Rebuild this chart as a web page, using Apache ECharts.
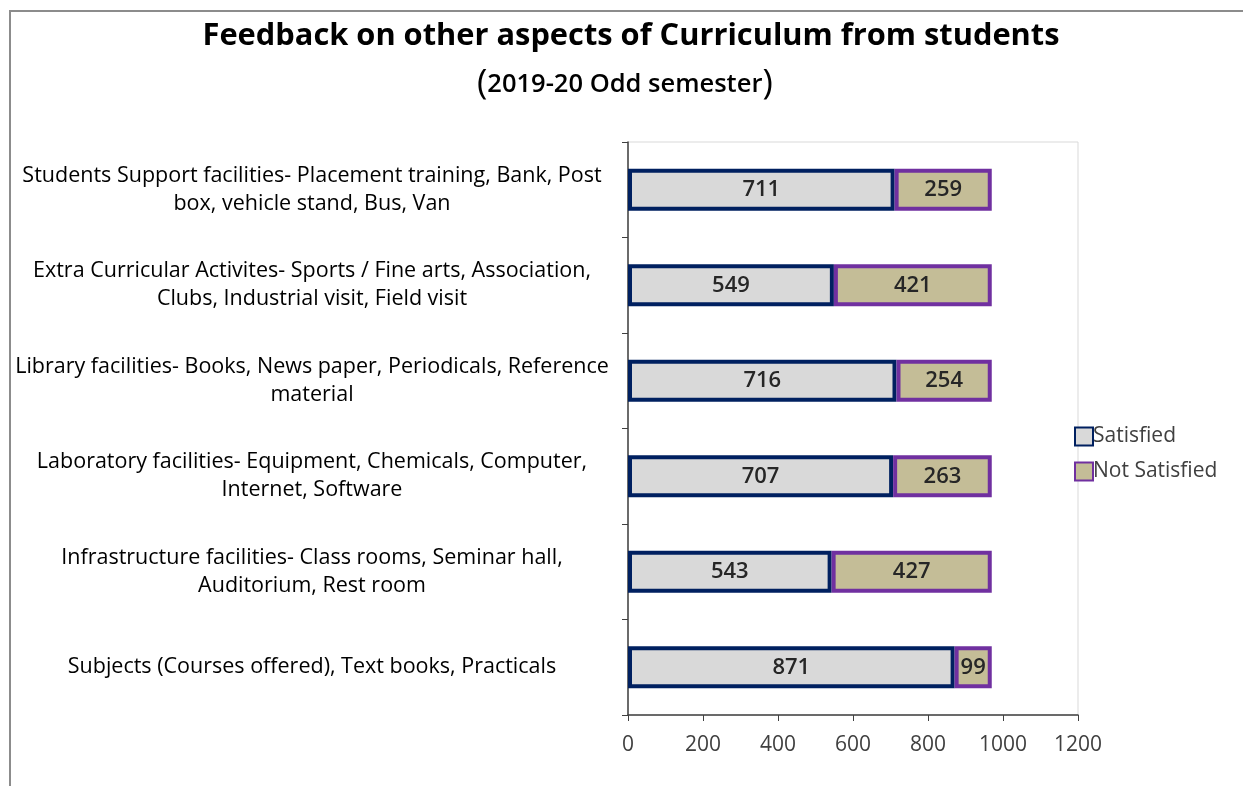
<!DOCTYPE html>
<html><head><meta charset="utf-8">
<script src="https://cdn.jsdelivr.net/npm/echarts@6/dist/echarts.min.js"></script>
<style>html,body{margin:0;padding:0;background:#fff}#c{width:1243px;height:786px}</style>
</head><body><div id="c"></div>
<script>
const categories = [
  "Subjects (Courses offered), Text books, Practicals",
  "Infrastructure facilities- Class rooms, Seminar hall,\nAuditorium, Rest room",
  "Laboratory facilities- Equipment, Chemicals, Computer,\nInternet, Software",
  "Library facilities- Books, News paper, Periodicals, Reference\nmaterial",
  "Extra Curricular Activites- Sports / Fine arts, Association,\nClubs, Industrial visit, Field visit",
  "Students Support facilities- Placement training, Bank, Post\nbox, vehicle stand, Bus, Van"
];
const satisfied = [871, 543, 707, 716, 549, 711];
const notSatisfied = [99, 427, 263, 254, 421, 259];
const seriesNames = ["Satisfied", "Not Satisfied"];
const xTicks = [0, 200, 400, 600, 800, 1000, 1200];

const font = "'Open Sans', 'DejaVu Sans', sans-serif";
const chart = echarts.init(document.getElementById('c'));
chart.setOption({
  animation: false,
  textStyle: {fontFamily: font},
  graphic: [
    {type: 'rect', shape: {x: 10, y: 11, width: 1300, height: 900}, style: {fill: 'none', stroke: '#8c8c8c', lineWidth: 2}, silent: true},
    {type: 'text', left: 477, top: 67, style: {
      text: '{p|(}{t|2019-20 Odd semester}{p|)}',
      rich: {
        p: {fontFamily: font, fontSize: 35, fill: '#000', verticalAlign: 'middle'},
        t: {fontFamily: font, fontSize: 25.5, fontWeight: 600, fill: '#000', verticalAlign: 'middle'}
      }
    }}
  ],
  title: {
    text: 'Feedback on other aspects of Curriculum from students',
    left: 626, top: 16, textAlign: 'center',
    textStyle: {fontFamily: font, fontSize: 30.8, fontWeight: 'bold', color: '#000'}
  },
  legend: {
    orient: 'vertical', left: 1069, top: 421, itemWidth: 18, itemHeight: 18, itemGap: 14,
    icon: 'rect',
    textStyle: {fontFamily: font, fontSize: 21, color: '#404040', padding: [0,0,0,-5]},
    data: seriesNames
  },
  grid: {left: 628, right: 165, top: 142, bottom: 71, show: true, borderColor: '#d9d9d9', borderWidth: 1},
  xAxis: {
    type: 'value', min: xTicks[0], max: xTicks[xTicks.length - 1], interval: 200,
    axisLine: {show: true, lineStyle: {color: '#404040', width: 1.5}},
    axisTick: {show: true, length: 6, lineStyle: {color: '#404040'}},
    splitLine: {show: false},
    axisLabel: {fontSize: 21, color: '#404040', margin: 20, fontFamily: font, formatter: v => String(v)}
  },
  yAxis: {
    type: 'category', data: categories,
    axisLine: {lineStyle: {color: '#404040', width: 1.5}},
    axisTick: {show: true, length: 6, lineStyle: {color: '#404040'}},
    axisLabel: {fontSize: 21.5, color: '#000', align: 'center', margin: 316, lineHeight: 28, fontFamily: font}
  },
  series: [
    {name: seriesNames[0], type: 'bar', stack: 'a', data: satisfied, barWidth: 42,
     itemStyle: {color: '#d9d9d9', borderColor: '#002060', borderWidth: 4},
     label: {show: true, position: 'inside', fontSize: 22, color: '#262626', fontWeight: 600, fontFamily: font}},
    {name: seriesNames[1], type: 'bar', stack: 'a', data: notSatisfied, barWidth: 42,
     itemStyle: {color: '#c4bd97', borderColor: '#7030a0', borderWidth: 4},
     label: {show: true, position: 'inside', fontSize: 22, color: '#262626', fontWeight: 600, fontFamily: font}}
  ]
});
</script></body></html>
